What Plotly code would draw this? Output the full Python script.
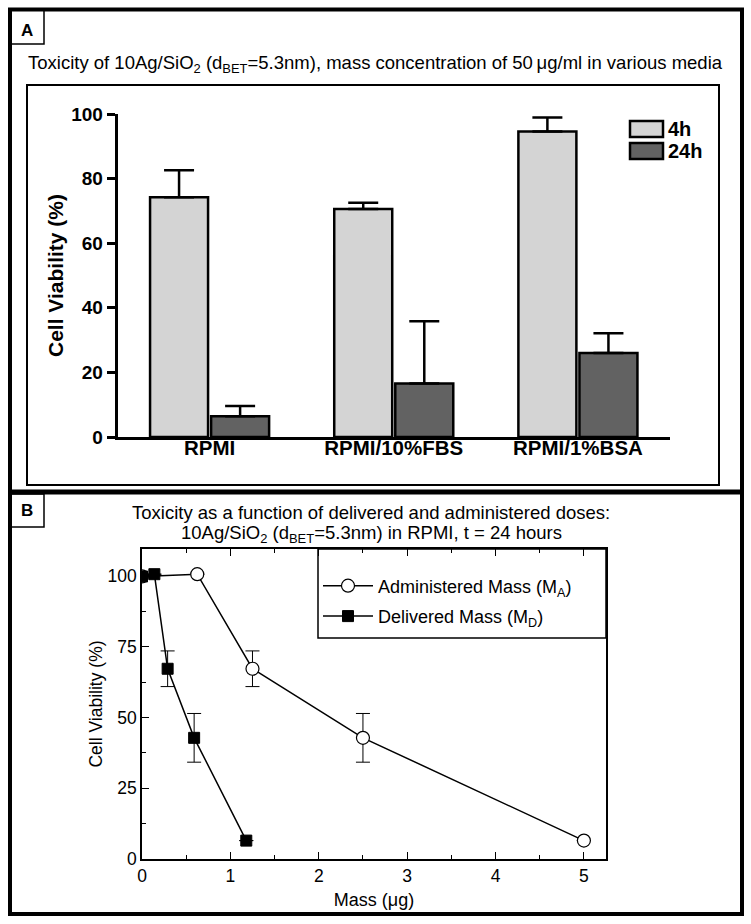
import plotly.graph_objects as go

W, H = 751, 924
FONT = "Liberation Sans, Arial, Helvetica, sans-serif"

# ---------------- Panel A data ----------------
media = ["RPMI", "RPMI/10%FBS", "RPMI/1%BSA"]
series_names = ["4h", "24h"]
viability_4h = [74.2, 70.6, 94.6]
err_4h = [8.4, 1.9, 4.3]
viability_24h = [6.4, 16.6, 26.0]
err_24h = [3.2, 19.2, 6.1]
a_yticks = [0, 20, 40, 60, 80, 100]

# ---------------- Panel B data ----------------
administered_mass = [0, 0.625, 1.25, 2.5, 5.0]
delivered_mass = [0, 0.14, 0.29, 0.59, 1.18]
viability_b = [99.8, 100.6, 67.2, 42.8, 6.5]
err_b = [None, None, 6.3, 8.6, None]
b_names = ["Administered Mass (M<sub>A</sub>)", "Delivered Mass (M<sub>D</sub>)"]
b_yticks = [0, 25, 50, 75, 100]

title_a = ("Toxicity of 10Ag/SiO<sub>2</sub> (d<sub>BET</sub>=5.3nm), "
           "mass concentration of 50\u2009\u03bcg/ml in various media")
title_b1 = "Toxicity as a function of delivered and administered doses:"
title_b2 = "10Ag/SiO<sub>2</sub> (d<sub>BET</sub>=5.3nm) in RPMI, t = 24 hours"

bar_colors = ["#d4d4d4", "#626262"]


def px(x):
    return x / W


def py(y):
    return 1 - y / H


fig = go.Figure()

# Panel A bars
for name, vals, errs, col in [(series_names[0], viability_4h, err_4h, bar_colors[0]),
                              (series_names[1], viability_24h, err_24h, bar_colors[1])]:
    fig.add_trace(go.Bar(
        x=media, y=vals, name=name, xaxis="x", yaxis="y", showlegend=False,
        marker=dict(color=col, line=dict(color="black", width=2.5)),
        error_y=dict(type="data", array=errs, arrayminus=[0] * len(errs), symmetric=False,
                     color="black", thickness=2.5, width=15),
    ))

# Panel B lines
fig.add_trace(go.Scatter(
    x=administered_mass, y=viability_b, name=b_names[0], mode="lines+markers",
    xaxis="x2", yaxis="y2", legendgroup="a",
    line=dict(color="black", width=1.5),
    marker=dict(symbol="circle", size=13, color="white", line=dict(color="black", width=1.2)),
    error_y=dict(type="data", array=err_b, color="black", thickness=1, width=7),
))
fig.add_trace(go.Scatter(
    x=delivered_mass, y=viability_b, name=b_names[1], mode="lines+markers",
    xaxis="x2", yaxis="y2", legendgroup="b",
    line=dict(color="black", width=1.5),
    marker=dict(symbol="square", size=11, color="black", line=dict(color="black", width=1)),
    error_y=dict(type="data", array=err_b, color="black", thickness=1, width=7),
))

shapes = []
annotations = []

# outer frame and divider
shapes.append(dict(type="rect", xref="paper", yref="paper", x0=px(10), x1=px(742), y0=py(9.5), y1=py(914),
                   line=dict(color="black", width=4)))
shapes.append(dict(type="line", xref="paper", yref="paper", x0=px(10), x1=px(742), y0=py(492), y1=py(492),
                   line=dict(color="black", width=5)))
# label boxes
shapes.append(dict(type="rect", xref="paper", yref="paper", x0=px(10), x1=px(44), y0=py(10), y1=py(44),
                   line=dict(color="black", width=1.5)))
shapes.append(dict(type="rect", xref="paper", yref="paper", x0=px(10), x1=px(44), y0=py(494), y1=py(527),
                   line=dict(color="black", width=1.5)))
# inner frame A
shapes.append(dict(type="rect", xref="paper", yref="paper", x0=px(27), x1=px(719), y0=py(85), y1=py(485),
                   line=dict(color="black", width=2)))
# legend box B
shapes.append(dict(type="rect", xref="paper", yref="paper", x0=px(318), x1=px(606), y0=py(549), y1=py(638),
                   line=dict(color="black", width=1.5)))

# custom legend A
for i, (nm, col) in enumerate(zip(series_names, bar_colors)):
    y0 = 121 + i * 22
    shapes.append(dict(type="rect", xref="paper", yref="paper", x0=px(630), x1=px(663), y0=py(y0), y1=py(y0 + 16),
                       fillcolor=col, line=dict(color="black", width=2.5)))
    annotations.append(dict(text=nm, xref="paper", yref="paper", x=px(666), y=py(y0 + 8), xanchor="left",
                            yanchor="middle", showarrow=False, font=dict(family=FONT, size=20, color="black",
                                                                         weight="bold")))


def centered(text, x, y, size, bold=False):
    f = dict(family=FONT, size=size, color="black")
    if bold:
        f["weight"] = "bold"
    return dict(text=text, xref="paper", yref="paper", x=px(x), y=py(y), xanchor="center",
                yanchor="middle", showarrow=False, font=f)


annotations += [
    centered("A", 27, 30.5, 17, True),
    centered("B", 27, 511, 17, True),
    centered(title_a, 375, 64, 18.5),
    centered(title_b1, 371, 512, 18.5),
    centered(title_b2, 371, 534, 18.5),
]

fig.update_layout(
    template="none",
    width=W, height=H, autosize=False,
    margin=dict(l=0, r=0, t=0, b=0, pad=0),
    paper_bgcolor="white", plot_bgcolor="white",
    font=dict(family=FONT, color="black"),
    bargap=0.337, bargroupgap=0.05, barmode="group",
    shapes=shapes, annotations=annotations,
    showlegend=True,
    legend=dict(x=px(318), y=py(567.5), xanchor="left", yanchor="top", bgcolor="rgba(0,0,0,0)",
                borderwidth=0, font=dict(family=FONT, size=18, color="black"), itemwidth=50,
                traceorder="grouped", tracegroupgap=4),
    xaxis=dict(domain=[px(117.5), px(670)], anchor="y", type="category", range=[-0.5, 2.5],
               automargin=False,
               showline=True, linecolor="black", linewidth=2.5, ticks="", showgrid=False, zeroline=False,
               tickfont=dict(family=FONT, size=20.5, color="black", weight="bold"), ticklabelstandoff=-9),
    yaxis=dict(domain=[py(437), py(114)], anchor="x", range=[0, 100], tickvals=a_yticks,
               automargin=False,
               showline=True, linecolor="black", linewidth=2.5, ticks="outside", ticklen=8, tickwidth=2.5,
               tickcolor="black", showgrid=False, zeroline=False,
               tickfont=dict(family=FONT, size=19, color="black", weight="bold"),
               title=dict(text="Cell Viability (%)", standoff=2,
                          font=dict(family=FONT, size=21, color="black", weight="bold"))),
    xaxis2=dict(domain=[px(142), px(606)], anchor="y2", range=[0, 5.25], dtick=1, tick0=0,
                automargin=False,
                showline=True, linecolor="black", linewidth=1.5, mirror="ticks",
                ticks="inside", ticklen=7, tickwidth=1.2, tickcolor="black",
                minor=dict(dtick=0.5, ticks="inside", ticklen=4, tickwidth=1.2, tickcolor="black"),
                showgrid=False, zeroline=False,
                tickfont=dict(family=FONT, size=17.5, color="black"),
                title=dict(text="Mass (\u03bcg)", standoff=9, font=dict(family=FONT, size=18, color="black"))),
    yaxis2=dict(domain=[py(859), py(549)], anchor="x2", range=[0, 109.5], tickvals=b_yticks,
                automargin=False,
                showline=True, linecolor="black", linewidth=1.5, mirror=True,
                ticks="inside", ticklen=7, tickwidth=1.2, tickcolor="black",
                minor=dict(dtick=12.5, tick0=0, ticks="inside", ticklen=4, tickwidth=1.2, tickcolor="black"),
                showgrid=False, zeroline=False,
                tickfont=dict(family=FONT, size=17.5, color="black"),
                title=dict(text="Cell Viability (%)", standoff=0, font=dict(family=FONT, size=17.5, color="black"))),
)

fig.write_html("out.html", config={"displayModeBar": False},
               post_script="document.body.style.margin='0';document.body.style.padding='0';"
                           "document.body.style.overflow='hidden';")
